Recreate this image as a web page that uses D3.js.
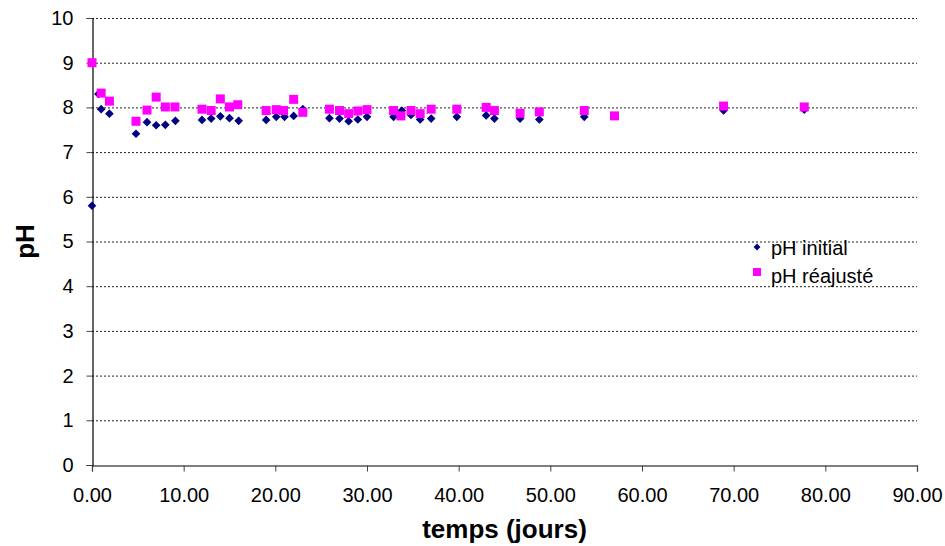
<!DOCTYPE html>
<html><head><meta charset="utf-8">
<script src="https://cdn.jsdelivr.net/npm/d3@7"></script>
<style>body{margin:0;background:#fff}svg{display:block}</style>
</head><body>
<svg id="c" width="945" height="546"></svg>
<script>
const initialDays = [0, 0.7, 1, 1.9, 4.8, 6, 7, 8, 9.1, 12, 13, 14, 15, 16, 19, 20.1, 21, 22, 23, 25.9, 27, 28, 29, 30, 32.9, 33.8, 34.8, 35.8, 37, 39.8, 43, 43.9, 46.7, 48.8, 53.7, 68.9, 77.7];
const initialPH = [5.8, 8.3, 7.96, 7.86, 7.41, 7.67, 7.6, 7.61, 7.7, 7.72, 7.75, 7.8, 7.76, 7.7, 7.72, 7.79, 7.79, 7.81, 7.96, 7.76, 7.75, 7.69, 7.73, 7.79, 7.79, 7.93, 7.83, 7.73, 7.75, 7.79, 7.82, 7.75, 7.75, 7.73, 7.79, 7.93, 7.95];
const adjustedDays = [0, 1, 1.9, 4.8, 6, 7, 8, 9.05, 12, 13, 14, 15, 15.9, 19, 20.1, 20.9, 22, 23, 25.9, 27, 28, 29, 30, 32.9, 33.7, 34.8, 35.8, 37, 39.8, 43, 43.9, 46.7, 48.8, 53.7, 57, 68.9, 77.7];
const adjustedPH = [9.0, 8.32, 8.14, 7.69, 7.94, 8.23, 8.01, 8.01, 7.96, 7.93, 8.19, 8.01, 8.06, 7.93, 7.95, 7.93, 8.18, 7.89, 7.96, 7.93, 7.86, 7.92, 7.95, 7.93, 7.81, 7.93, 7.86, 7.96, 7.96, 8.0, 7.93, 7.87, 7.9, 7.93, 7.81, 8.03, 8.01];
const xTicks = [0, 10, 20, 30, 40, 50, 60, 70, 80, 90];
const yTicks = [0, 1, 2, 3, 4, 5, 6, 7, 8, 9, 10];
const seriesNames = ["pH initial", "pH réajusté"];
const xTitle = "temps (jours)";
const yTitle = "pH";

const svg = d3.select("#c");
const L = 92, R = 917, T = 18, B = 465;
const x = d3.scaleLinear().domain([0, 90]).range([L, R]);
const y = d3.scaleLinear().domain([0, 10]).range([B, T]);
const font = "'Liberation Sans', Arial, sans-serif";

// gridlines
svg.append("g").selectAll("line").data(yTicks.filter(d => d > 0)).join("line")
  .attr("x1", L).attr("x2", R).attr("y1", d => y(d) + 0.5).attr("y2", d => y(d) + 0.5)
  .attr("stroke", "#222").attr("stroke-width", 1).attr("stroke-dasharray", "2,2");

// axes
const yAxis = svg.append("g").attr("transform", `translate(${L + 0.5},0)`)
  .call(d3.axisLeft(y).tickValues(yTicks).tickFormat(d3.format("d")).tickSize(6).tickPadding(13));
const xAxis = svg.append("g").attr("transform", `translate(0,${B + 0.5})`)
  .call(d3.axisBottom(x).tickValues(xTicks).tickFormat(d3.format(".2f")).tickSize(6).tickPadding(16));
[yAxis, xAxis].forEach(a => {
  a.select(".domain").attr("stroke", "#000").attr("stroke-width", 1.2);
  a.selectAll(".tick line").attr("stroke", "#444");
  a.selectAll("text").attr("font-family", font).attr("font-size", 20).attr("fill", "#000");
});

// titles
svg.append("text").attr("x", (L + R) / 2).attr("y", 538).attr("text-anchor", "middle")
  .attr("font-family", font).attr("font-weight", "bold").attr("font-size", 26).text(xTitle);
svg.append("text").attr("transform", `translate(34,${(T + B) / 2}) rotate(-90)`).attr("text-anchor", "middle")
  .attr("font-family", font).attr("font-weight", "bold").attr("font-size", 26).text(yTitle);

// points
const diamond = d3.symbol().type(d3.symbolDiamond2).size(48);
const sq = 9;
svg.append("g").selectAll("path").data(initialDays.map((d, i) => [d, initialPH[i]])).join("path")
  .attr("d", diamond).attr("transform", d => `translate(${x(d[0])},${y(d[1])})`)
  .attr("fill", "#000080");
svg.append("g").selectAll("rect").data(adjustedDays.map((d, i) => [d, adjustedPH[i]])).join("rect")
  .attr("x", d => x(d[0]) - sq / 2).attr("y", d => y(d[1]) - sq / 2).attr("width", sq).attr("height", sq)
  .attr("fill", "#FF00FF");

// legend
const lg = svg.append("g");
lg.append("path").attr("d", d3.symbol().type(d3.symbolDiamond2).size(30)).attr("transform", "translate(757,247)").attr("fill", "#000080");
lg.append("rect").attr("x", 753).attr("y", 268).attr("width", 8).attr("height", 8).attr("fill", "#FF00FF");
lg.selectAll("text").data(seriesNames).join("text")
  .attr("x", 771).attr("y", (d, i) => 255 + i * 28)
  .attr("font-family", font).attr("font-size", 20).attr("fill", "#000").text(d => d);
</script>
</body></html>
